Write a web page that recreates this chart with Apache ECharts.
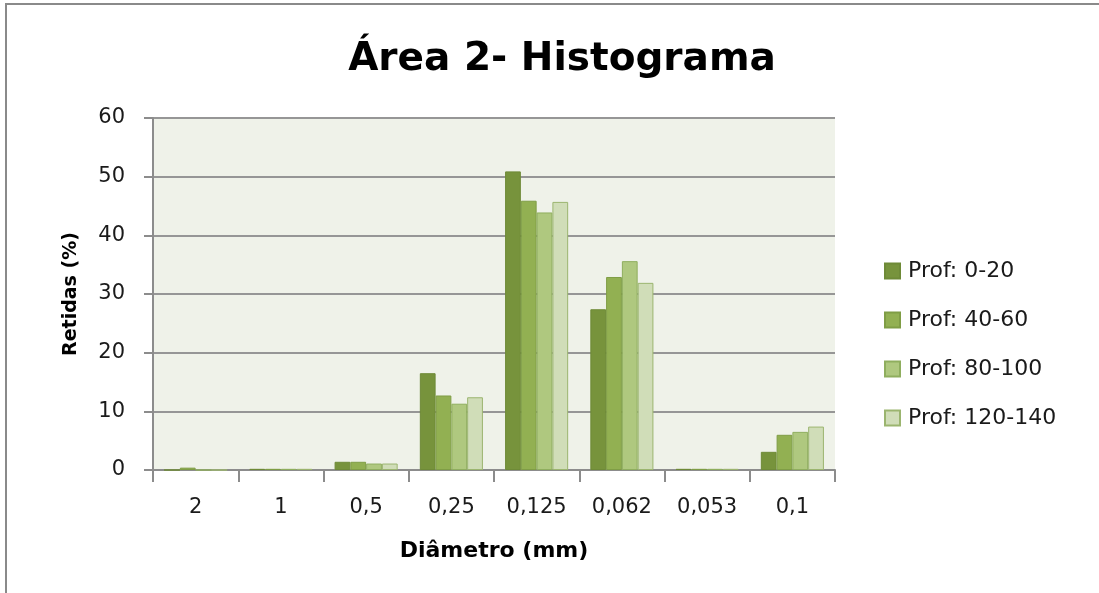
<!DOCTYPE html>
<html>
	<head>
		<meta charset="utf-8" />
		<title>Área 2- Histograma</title>
		<style>
			html, body {
				width: 100%;
				height: 100%;
				margin: 0;
				padding: 0;
				background: #fff;
				overflow: hidden;
			}
			#frame {
				position: absolute;
				left: 5px;
				top: 3px;
				width: 1200px;
				height: 700px;
				border-top: 2px solid #8a8a8a;
				border-left: 2px solid #8a8a8a;
			}
			#main {
				position: absolute;
				left: 0;
				top: 0;
				width: 1099px;
				height: 593px;
			}
		</style>
	</head>
	<body>
		<div id="frame"></div>
		<div id="main"></div>
		<script src="https://cdn.jsdelivr.net/npm/echarts@6/dist/echarts.min.js"></script>
		<script>
			var categorias = ['2', '1', '0,5', '0,25', '0,125', '0,062', '0,053', '0,1'];
			var prof0_20 = [0, 0.2, 1.4, 16.5, 50.9, 27.4, 0.2, 3.1];
			var prof40_60 = [0.4, 0.2, 1.4, 12.7, 45.9, 32.9, 0.2, 6.0];
			var prof80_100 = [0, 0.2, 1.1, 11.3, 43.9, 35.6, 0.2, 6.5];
			var prof120_140 = [0, 0.2, 1.1, 12.4, 45.7, 31.9, 0.2, 7.4];
			var nomes = ['Prof: 0-20', 'Prof: 40-60', 'Prof: 80-100', 'Prof: 120-140'];
			var cores = ['#77933c', '#92b052', '#afc87f', '#d0ddb8'];
			var bordas = ['#6e8a37', '#7f9d45', '#8fae5e', '#9bb56f'];
			var fonte = '"DejaVu Sans", sans-serif';

			var dados = [prof0_20, prof40_60, prof80_100, prof120_140];
			var series = dados.map(function(d, i) {
				return {
					name: nomes[i],
					type: 'bar',
					data: d,
					barGap: '0%',
					barCategoryGap: '26%',
					itemStyle: {
						color: cores[i],
						borderColor: bordas[i],
						borderWidth: 1
					}
				};
			});

			var chart = echarts.init(document.getElementById('main'), null, { renderer: 'canvas' });
			chart.setOption({
				animation: false,
				title: {
					text: 'Área 2- Histograma',
					left: 557,
					top: 35,
					textAlign: 'center',
					textStyle: { fontFamily: fonte, fontSize: 39, fontWeight: 'bold', color: '#000' }
				},
				legend: {
					orient: 'vertical',
					left: 879,
					top: 255,
					itemGap: 27,
					itemWidth: 15,
					itemHeight: 15,
					icon: 'rect',
					data: nomes,
					textStyle: { fontFamily: fonte, fontSize: 22, color: '#1a1a1a', padding: [0, 0, 0, 3] }
				},
				grid: { left: 153, right: 264, top: 118, bottom: 123, backgroundColor: '#eff2e9', show: true, borderWidth: 0 },
				xAxis: {
					type: 'category',
					data: categorias,
					name: 'Diâmetro (mm)',
					nameLocation: 'middle',
					nameGap: 70,
					nameTextStyle: { fontFamily: fonte, fontSize: 22, fontWeight: 'bold', color: '#000' },
					axisLine: { lineStyle: { color: '#8c8c8c', width: 2 } },
					axisTick: { show: true, length: 12, lineStyle: { color: '#8c8c8c', width: 2 } },
					axisLabel: { fontFamily: fonte, fontSize: 21, color: '#1a1a1a', margin: 27 }
				},
				yAxis: {
					type: 'value',
					min: 0,
					max: 60,
					interval: 10,
					name: 'Retidas (%)',
					nameLocation: 'middle',
					nameGap: 72,
					nameRotate: 90,
					nameTextStyle: { fontFamily: fonte, fontSize: 19, fontWeight: 'bold', color: '#000' },
					axisLine: { show: true, lineStyle: { color: '#8c8c8c', width: 2 } },
					axisTick: { show: true, length: 9, lineStyle: { color: '#8c8c8c', width: 2 } },
					axisLabel: { fontFamily: fonte, fontSize: 21, color: '#1a1a1a', margin: 28 },
					splitLine: { lineStyle: { color: '#969696', width: 2 } }
				},
				series: series
			});
		</script>
	</body>
</html>
